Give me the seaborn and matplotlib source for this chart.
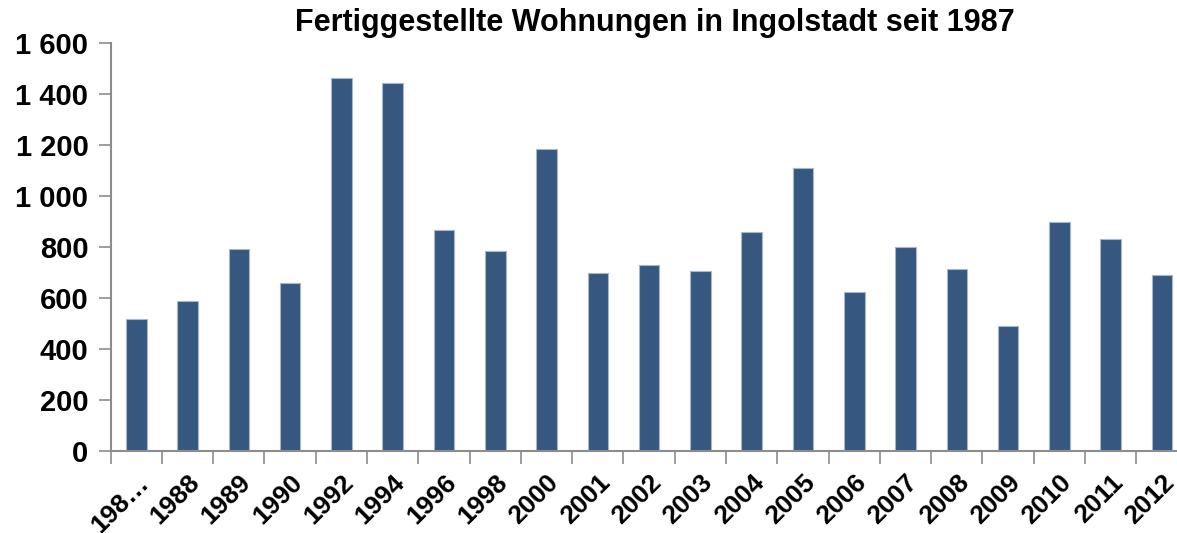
import numpy as np
import pandas as pd
import matplotlib
matplotlib.use("Agg")
import matplotlib.pyplot as plt
import seaborn as sns

# data
years = ["198…", "1988", "1989", "1990", "1992", "1994", "1996", "1998", "2000",
         "2001", "2002", "2003", "2004", "2005", "2006", "2007", "2008", "2009",
         "2010", "2011", "2012"]
wohnungen = [516, 590, 791, 659, 1464, 1444, 868, 784, 1186,
             698, 729, 707, 858, 1112, 625, 801, 712, 491,
             899, 833, 689]
yticks = [0, 200, 400, 600, 800, 1000, 1200, 1400, 1600]
ytick_labels = ["0", "200", "400", "600", "800", "1 000", "1 200", "1 400", "1 600"]

df = pd.DataFrame({"Jahr": years, "Wohnungen": wohnungen})

sns.set_style("white")
plt.rcParams['font.family'] = ['Liberation Sans', 'DejaVu Sans']
plt.rcParams['text.color'] = 'black'
plt.rcParams['xtick.labelcolor'] = 'black'
plt.rcParams['ytick.labelcolor'] = 'black'

fig = plt.figure(figsize=(11.77, 5.33), dpi=100)
ax = fig.add_axes([0.094, 0.154, 0.915, 0.765])

sns.barplot(data=df, x="Jahr", y="Wohnungen", color="#36577f", width=0.4,
            saturation=1, edgecolor="#a9b6c8", linewidth=0.8, ax=ax)

ax.set_xlim(-0.5, len(years) - 0.5)
ax.set_ylim(0, 1600)
ax.set_yticks(yticks)
ax.set_yticklabels(ytick_labels, fontsize=21, fontweight="bold", color="black")

# category boundaries get the tick marks, labels sit at the centres
ax.set_xticks(np.arange(len(years)) - 0.5, minor=False)
ax.set_xticklabels([])
ax.set_xticks(np.arange(len(years)), minor=True)
ax.set_xticklabels(years, minor=True, rotation=45, ha="right",
                   rotation_mode="anchor", fontsize=19, fontweight="bold",
                   color="black")
ax.tick_params(axis="x", which="major", length=9, width=1.2, color="#8c8c8c",
               direction="out", bottom=True)
ax.tick_params(axis="x", which="minor", length=0, pad=14)
ax.tick_params(axis="y", length=9, width=1.2, color="#8c8c8c", direction="out",
               left=True, pad=7)

for s in ["top", "right"]:
    ax.spines[s].set_visible(False)
for s in ["left", "bottom"]:
    ax.spines[s].set_color("#8c8c8c")
    ax.spines[s].set_linewidth(1.5)

ax.set_xlabel("")
ax.set_ylabel("")
fig.text(0.556, 0.956, "Fertiggestellte Wohnungen in Ingolstadt seit 1987",
         ha="center", va="center", fontsize=22, fontweight="bold", color="black")

fig.savefig("out.png", dpi=100)
